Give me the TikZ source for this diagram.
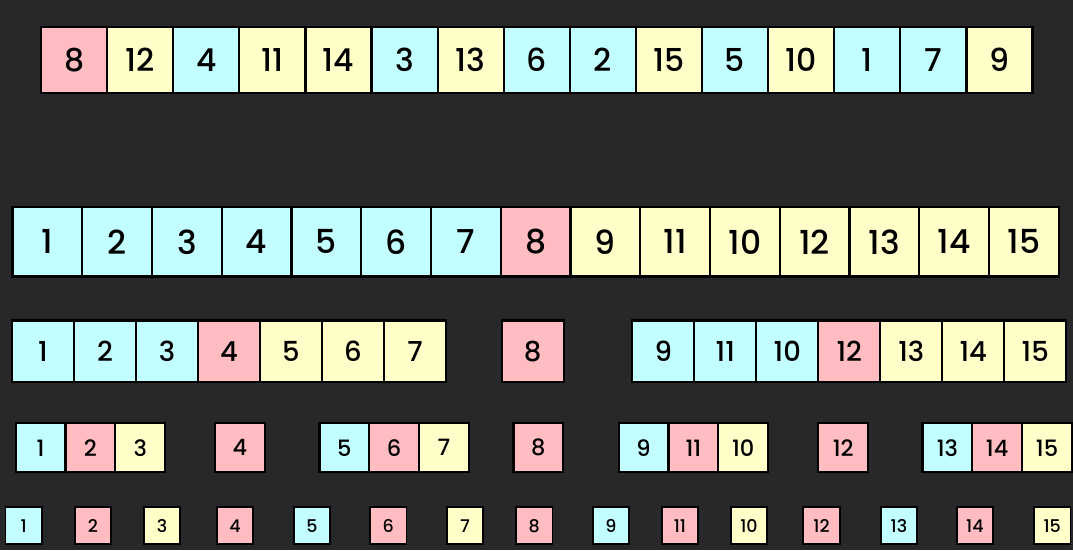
\documentclass[tikz,border=0pt]{standalone}
\usepackage{fontspec}
\setmainfont{Poppins Medium}
\definecolor{bg}{HTML}{28282A}
\definecolor{cpink}{HTML}{FFBDC1}
\definecolor{cyel}{HTML}{FFFDC8}
\definecolor{ccyan}{HTML}{C2FDFF}
\begin{document}
\begin{tikzpicture}[x=1pt,y=-1pt,
  cell/.style={draw=black, line width=2.2pt, inner sep=0pt, outer sep=0pt, text=black}]
\fill[bg] (0,0) rectangle (1073,550);
\useasboundingbox (0,0) rectangle (1073,550);
% Row 1
\foreach \lab/\col [count=\i from 0] in {8/cpink,12/cyel,4/ccyan,11/cyel,14/cyel,3/ccyan,13/cyel,6/ccyan,2/ccyan,15/cyel,5/ccyan,10/cyel,1/ccyan,7/ccyan,9/cyel}
  \node[cell, fill=\col, minimum width=66.1pt, minimum height=66pt, font=\fontsize{31.5}{31.5}\selectfont] (a\i) at ({41+66.1*\i+33.05},60) {\lab};
% Row 2
\foreach \lab/\col [count=\i from 0] in {1/ccyan,2/ccyan,3/ccyan,4/ccyan,5/ccyan,6/ccyan,7/ccyan,8/cpink,9/cyel,11/cyel,10/cyel,12/cyel,13/cyel,14/cyel,15/cyel}
  \node[cell, fill=\col, minimum width=69.75pt, minimum height=69.5pt, font=\fontsize{33}{33}\selectfont] (b\i) at ({12.5+69.75*\i+34.875},241.8) {\lab};
% Row 3
\foreach \x/\lab/\col [count=\i from 0] in {12/1/ccyan,74/2/ccyan,136/3/ccyan,198/4/cpink,260/5/cyel,322/6/cyel,384/7/cyel,501.7/8/cpink,632.3/9/ccyan,694.3/11/ccyan,756.3/10/ccyan,818.3/12/cpink,880.3/13/cyel,942.3/14/cyel,1004.3/15/cyel}
  \node[cell, fill=\col, minimum width=62pt, minimum height=61.5pt, font=\fontsize{27.5}{27.5}\selectfont] (c\i) at ({\x+31},351.3) {\lab};
% Row 4
\foreach \x/\lab/\col [count=\i from 0] in {15.7/1/ccyan,65.5/2/cpink,115.3/3/cyel,215/4/cpink,319.5/5/ccyan,369.3/6/cpink,419.1/7/cyel,513.5/8/cpink,618.7/9/ccyan,668.5/11/cpink,718.3/10/cyel,818.3/12/cpink,922.5/13/ccyan,972.3/14/cpink,1022.1/15/cyel}
  \node[cell, fill=\col, minimum width=49.8pt, minimum height=49pt, font=\fontsize{22.5}{22.5}\selectfont] (d\i) at ({\x+24.9},447.8) {\lab};
% Row 5
\foreach \x/\lab/\col [count=\i from 0] in {5.5/1/ccyan,74.7/2/cpink,143.7/3/cyel,216.7/4/cpink,293.7/5/ccyan,370/6/cpink,446.7/7/cyel,516/8/cpink,592.7/9/ccyan,661.7/11/cpink,730.7/10/cyel,803.3/12/cpink,880.7/13/ccyan,956.7/14/cpink,1034/15/cyel}
  \node[cell, fill=\col, minimum width=36.5pt, minimum height=37pt, line width=1.8pt, font=\fontsize{17.5}{17.5}\selectfont] (e\i) at ({\x+18.25},525.8) {\lab};
\end{tikzpicture}
\end{document}
